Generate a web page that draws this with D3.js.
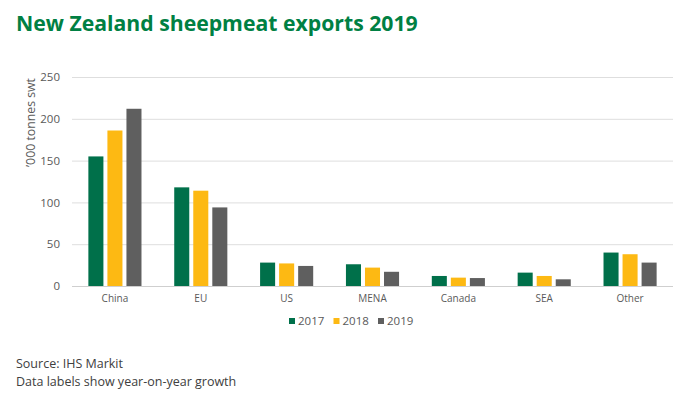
<!DOCTYPE html>
<html>
<head>
<meta charset="utf-8">
<script src="https://cdn.jsdelivr.net/npm/d3@7"></script>
<style>
  body { margin: 0; background: #fff; }
  svg { display: block; font-family: "Open Sans", "Liberation Sans", sans-serif; }
</style>
</head>
<body>
<svg id="chart"></svg>
<script>
const categories = ['China', 'EU', 'US', 'MENA', 'Canada', 'SEA', 'Other'];
const years = ['2017', '2018', '2019'];
const values2017 = [155, 118, 28, 26, 12, 16, 40];
const values2018 = [186, 114, 27, 22, 10, 12, 38];
const values2019 = [212, 94, 24, 17, 9.5, 8, 28];
const yTicks = [0, 50, 100, 150, 200, 250];
const colors = ['#00704a', '#fdb913', '#5f5f5f'];

const width = 700, height = 398;
const margin = {left: 72, right: 27, top: 77, bottom: 112};

const svg = d3.select('#chart').attr('width', width).attr('height', height);

const series = [values2017, values2018, values2019];

const x = d3.scaleBand()
  .domain(categories)
  .range([margin.left, width - margin.right])
  .paddingInner(0)
  .paddingOuter(0);

const x1 = d3.scaleBand()
  .domain(years)
  .range([0, x.bandwidth()])
  .paddingInner(0.21)
  .paddingOuter(0.86);

const y = d3.scaleLinear()
  .domain([0, 250])
  .range([height - margin.bottom, margin.top]);

// title
const title = svg.append('text')
  .attr('x', 16)
  .attr('y', 31)
  .attr('fill', '#008043')
  .attr('font-weight', 'bold')
  .attr('font-size', 22)
  .text('New Zealand sheepmeat exports 2019');
const tw = title.node().getComputedTextLength();
title.attr('font-size', 22 * 402 / tw);

// gridlines
svg.append('g')
  .selectAll('line')
  .data(yTicks)
  .join('line')
    .attr('x1', margin.left)
    .attr('x2', width - margin.right)
    .attr('y1', d => y(d) + 0.5)
    .attr('y2', d => y(d) + 0.5)
    .attr('stroke', d => d === 0 ? '#cfcfcf' : '#dedede')
    .attr('stroke-width', 1);

// y axis labels
const yAxis = svg.append('g')
  .attr('transform', `translate(${margin.left},0)`)
  .call(d3.axisLeft(y).tickValues(yTicks).tickSize(0).tickPadding(12));
yAxis.select('.domain').remove();
yAxis.selectAll('text')
  .attr('font-family', '"Open Sans", sans-serif')
  .attr('font-size', 11.5)
  .attr('fill', '#595959');

const yTitle = svg.append('text')
  .attr('transform', 'translate(34.5,122.5) rotate(-90)')
  .attr('text-anchor', 'middle')
  .attr('font-size', 12)
  .attr('fill', '#595959')
  .text('\u2019000 tonnes swt');
const yl = yTitle.node().getComputedTextLength();
yTitle.attr('font-size', 12 * 89 / yl);

// bars
const groups = svg.append('g')
  .selectAll('g')
  .data(categories)
  .join('g')
    .attr('transform', d => `translate(${x(d)},0)`);

groups.selectAll('rect')
  .data((d, i) => years.map((yr, j) => ({year: yr, value: series[j][i], j})))
  .join('rect')
    .attr('x', d => x1(d.year))
    .attr('width', x1.bandwidth())
    .attr('y', d => y(d.value))
    .attr('height', d => y(0) - y(d.value))
    .attr('fill', d => colors[d.j]);

// x axis labels
const xAxis = svg.append('g')
  .attr('transform', `translate(0,${y(0)})`)
  .call(d3.axisBottom(x).tickSize(0).tickPadding(9));
xAxis.select('.domain').remove();
xAxis.selectAll('text')
  .attr('font-family', '"Open Sans", sans-serif')
  .attr('font-size', 10)
  .attr('fill', '#595959');

// legend
const legend = svg.append('g').attr('transform', 'translate(289,325)');
const li = legend.selectAll('g')
  .data(years)
  .join('g')
    .attr('transform', (d, i) => `translate(${i * 44.5},0)`);
li.append('rect')
  .attr('x', 0).attr('y', -7)
  .attr('width', 6).attr('height', 6)
  .attr('fill', (d, i) => colors[i]);
li.append('text')
  .attr('x', 9).attr('y', 0)
  .attr('font-size', 11.5)
  .attr('fill', '#595959')
  .text(d => d);

// footnotes
svg.append('text')
  .attr('x', 16).attr('y', 368)
  .attr('font-size', 12.5)
  .attr('fill', '#404040')
  .text('Source: IHS Markit');
svg.append('text')
  .attr('x', 16).attr('y', 386)
  .attr('font-size', 12.5)
  .attr('fill', '#404040')
  .text('Data labels show year-on-year growth');
</script>
</body>
</html>
